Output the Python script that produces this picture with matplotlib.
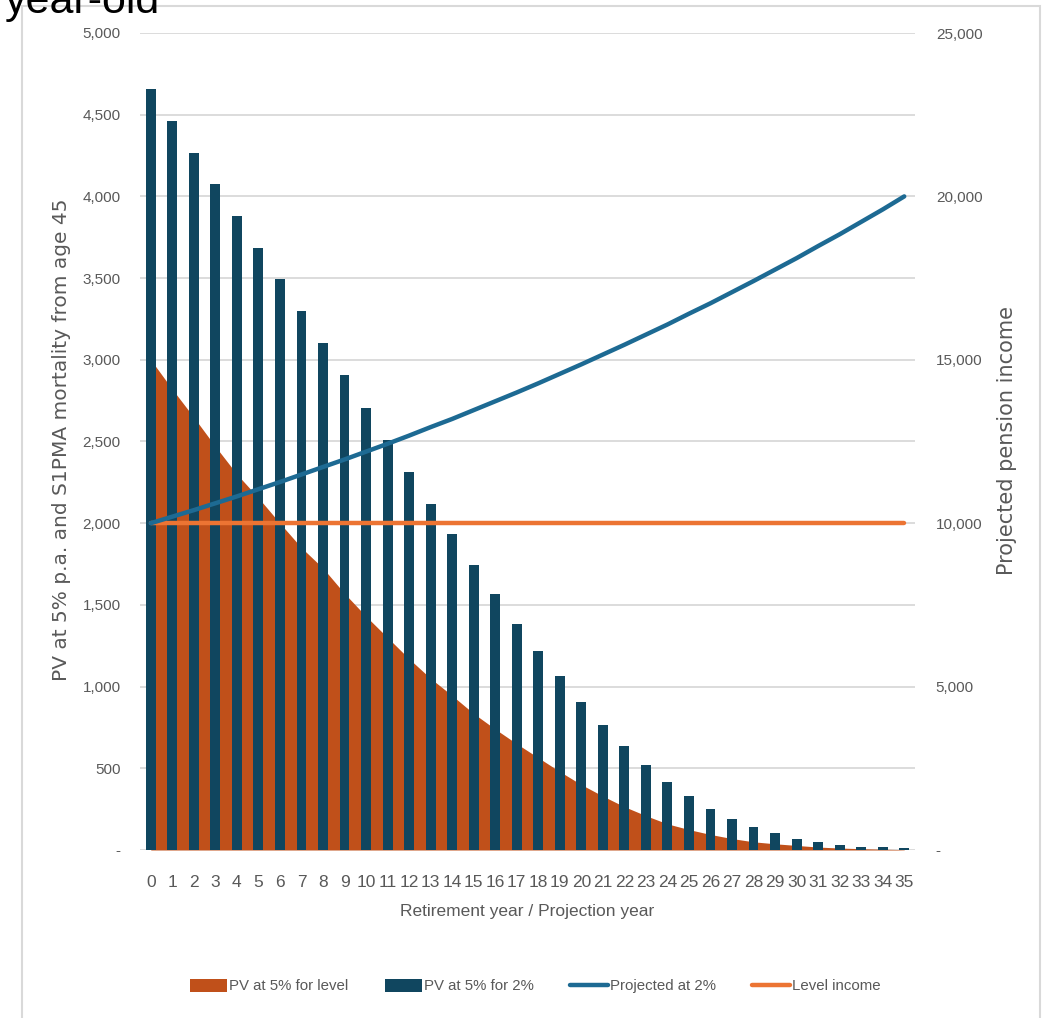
import matplotlib
matplotlib.use("Agg")
import matplotlib.pyplot as plt
import numpy as np
from matplotlib.patches import Patch, Rectangle
from matplotlib.lines import Line2D
from matplotlib.ticker import FuncFormatter, MultipleLocator
from matplotlib import font_manager

years = list(range(36))

# PV at 5% for level income (area)
pv_level = [3000, 2820, 2648, 2470, 2300, 2155, 2000, 1850, 1725, 1570,
            1430, 1300, 1170, 1050, 945, 835, 740, 650, 565, 480,
            400, 330, 265, 210, 160, 125, 95, 70, 50, 38,
            28, 18, 12, 8, 5, 2]

# PV at 5% for income increasing at 2% (bars)
pv_2pct = [4660, 4464, 4264, 4074, 3877, 3684, 3494, 3296, 3103, 2905,
           2708, 2512, 2316, 2120, 1936, 1747, 1564, 1383, 1220, 1062,
           908, 765, 634, 520, 414, 330, 253, 192, 141, 102,
           70, 47, 30, 17, 16, 10]

# Projected pension income (right axis)
proj_2pct = [10000, 10200, 10400, 10610, 10820, 11040, 11260, 11490, 11720, 11950,
             12190, 12430, 12680, 12940, 13190, 13460, 13730, 14000, 14280, 14570,
             14860, 15160, 15460, 15770, 16080, 16410, 16730, 17070, 17410, 17760,
             18110, 18480, 18840, 19220, 19600, 20000]
level_income = [10000] * 36

c_area = "#C0501A"
c_bar = "#10465F"
c_proj = "#1D6A93"
c_level = "#EC7433"
c_grid = "#D9D9D9"
c_text = "#595959"

installed = {f.name for f in font_manager.fontManager.ttflist}
narrow = "Liberation Sans Narrow" if "Liberation Sans Narrow" in installed else "Liberation Sans"
arial = "Liberation Sans"

W, H = 1051, 1018
fig = plt.figure(figsize=(W / 100, H / 100), dpi=100)
fig.patch.set_facecolor("white")

# chart frame
fig.patches.append(Rectangle((22 / W, -0.05), (1040 - 22) / W, 1.05 - 6 / H,
                             transform=fig.transFigure, fill=False,
                             edgecolor=c_grid, linewidth=1.5))

ax = fig.add_axes([140 / W, 1 - 850 / H, 775 / W, (850 - 33) / H])
ax2 = ax.twinx()

x = np.array(years)
ax.fill_between(x, 0, pv_level, color=c_area, linewidth=0, zorder=2)
ax.bar(x, pv_2pct, width=0.46, color=c_bar, zorder=3)

ax2.plot(x, level_income, color=c_level, linewidth=3.2, solid_capstyle="round", zorder=4)
ax2.plot(x, proj_2pct, color=c_proj, linewidth=3.2, solid_capstyle="round", zorder=5)

dash_fmt = FuncFormatter(lambda v, p: "-" if v == 0 else f"{v:,.0f}")

ax.set_xlim(-0.5, 35.5)
ax.set_ylim(0, 5000)
ax2.set_ylim(0, 25000)
ax.yaxis.set_major_locator(MultipleLocator(500))
ax2.yaxis.set_major_locator(MultipleLocator(5000))
ax.yaxis.set_major_formatter(dash_fmt)
ax2.yaxis.set_major_formatter(dash_fmt)

ax.set_xticks(x)
ax.set_xticklabels([str(y) for y in years], family=narrow, fontsize=12.5, color=c_text)
ax.tick_params(axis="x", length=0, pad=18)
ax.tick_params(axis="y", length=0, pad=14, labelsize=11, labelcolor=c_text)
ax2.tick_params(axis="y", length=0, pad=15, labelsize=11, labelcolor=c_text)
for lab in ax.get_yticklabels() + ax2.get_yticklabels():
    lab.set_family(arial)

ax.grid(axis="y", color=c_grid, linewidth=1.3)
ax.set_axisbelow(True)
for a in (ax, ax2):
    for s in a.spines.values():
        s.set_visible(False)
ax.set_zorder(1)
ax.patch.set_visible(False)
ax2.set_zorder(2)

fig.text(62 / W, 1 - 440 / H, "PV at 5% p.a. and S1PMA mortality from age 45",
         fontsize=14.5, color=c_text, rotation=90, ha="center", va="center")
fig.text(1007 / W, 1 - 441 / H, "Projected pension income",
         fontsize=15, color=c_text, rotation=90, ha="center", va="center")
ax.set_xlabel("Retirement year / Projection year", family=narrow, fontsize=12.5,
              color=c_text, labelpad=10)

fig.text(5 / W, 1 - 13 / H, "year-old", fontsize=31, color="black",
         family=arial, ha="left", va="baseline")

handles = [
    Patch(facecolor=c_area, label="PV at 5% for level"),
    Patch(facecolor=c_bar, label="PV at 5% for 2%"),
    Line2D([0], [0], color=c_proj, linewidth=3.2, solid_capstyle="round",
           label="Projected at 2%"),
    Line2D([0], [0], color=c_level, linewidth=3.2, solid_capstyle="round",
           label="Level income"),
]
fig.legend(handles=handles, loc="center", bbox_to_anchor=(535 / W, 1 - 986 / H),
           ncol=4, frameon=False, prop={"family": narrow, "size": 10.8},
           labelcolor=c_text, handlelength=2.5, handleheight=0.95,
           handletextpad=0.15, columnspacing=2.4)

fig.savefig("out.png", dpi=100, facecolor="white")
